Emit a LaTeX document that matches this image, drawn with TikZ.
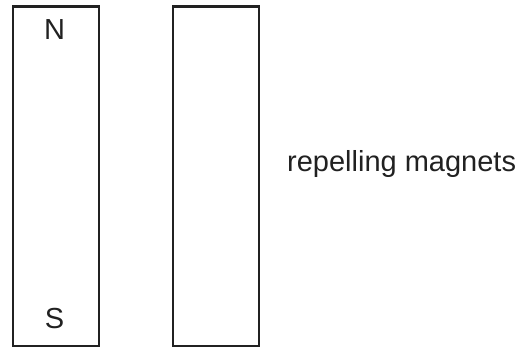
\documentclass[tikz,border=0pt]{standalone}
\usepackage{fontspec}
\setmainfont{Liberation Sans}
\begin{document}
\begin{tikzpicture}[x=1pt,y=-1pt,
  magnet/.style={draw=black!87,line width=2.2pt,inner sep=0pt,minimum width=86.5pt,minimum height=339.5pt,anchor=north west},
  lbl/.style={font=\fontsize{29}{34}\selectfont,text=black!87,inner sep=0pt}]
\useasboundingbox (0,0) rectangle (519,347);
\node[magnet] (m1) at (11.5,5.5) {};
\node[magnet] (m2) at (171.5,5.5) {};
\node[lbl,anchor=base] (n) at (54.5,40) {N};
\node[lbl,anchor=base] (s) at (54.5,328) {S};
\node[lbl,anchor=base west] (t) at (287,172) {repelling magnets};
\end{tikzpicture}
\end{document}
